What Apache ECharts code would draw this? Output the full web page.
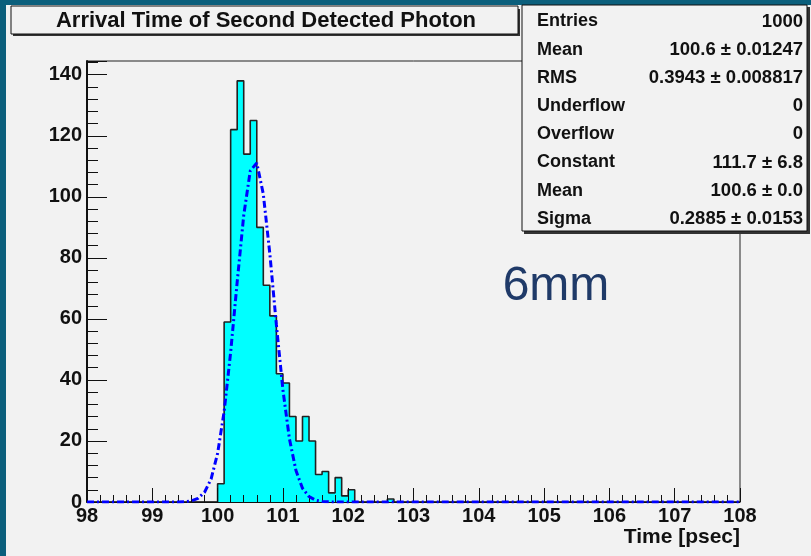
<!DOCTYPE html>
<html><head><meta charset="utf-8">
<script src="https://cdn.jsdelivr.net/npm/echarts@6/dist/echarts.min.js"></script>
<style>html,body{margin:0;padding:0;background:#f2f2f2}#c{width:811px;height:556px}</style>
</head><body><div id="c"></div><script>
// ---- data ----
const binStart = 100.0;
const binWidth = 0.1;
const counts = [6, 59, 122, 138, 114, 125, 90, 71, 61, 42, 39, 28, 20, 28, 20, 9, 10, 3, 8, 2, 4, 0, 0, 0, 0, 0, 1];
const xMin = 98, xMax = 108;
const fitX = [98, 99.4, 99.5, 99.6, 99.7, 99.8, 99.9, 100.0, 100.1, 100.2, 100.3, 100.4, 100.5, 100.6, 100.7, 100.8, 100.9, 101.0, 101.1, 101.2, 101.3, 101.4, 101.5, 101.6, 101.7, 101.8, 108];
const fitY = [0, 0, 0.1, 0.4, 1.2, 3.2, 7.5, 15.9, 29.6, 49.1, 72.1, 93.9, 108.5, 111.1, 100.9, 81.3, 58.1, 36.8, 20.7, 10.3, 4.5, 1.8, 0.6, 0.2, 0.05, 0, 0];
const statLabels = ['Entries', 'Mean', 'RMS', 'Underflow', 'Overflow', 'Constant', 'Mean', 'Sigma'];
const statValues = ['1000', '100.6 \u00b1 0.01247', '0.3943 \u00b1 0.008817', '0', '0', '111.7 \u00b1 6.8', '100.6 \u00b1 0.0', '0.2885 \u00b1 0.0153'];
const titleText = 'Arrival Time of Second Detected Photon';
const xAxisName = 'Time [psec]';
const noteText = '6mm';

// ---- build step outline ----
const histData = [[xMin, 0]];
counts.forEach((c, i) => histData.push([+(binStart + i * binWidth).toFixed(3), c]));
histData.push([+(binStart + counts.length * binWidth).toFixed(3), 0]);
histData.push([xMax, 0]);
const fitData = fitX.map((x, i) => [x, fitY[i]]);

const FONT = '"Liberation Sans", Arial, Helvetica, sans-serif';
const chart = echarts.init(document.getElementById('c'), null, {renderer: 'canvas'});

const graphics = [
  {type: 'rect', z: 100, shape: {x: 0, y: 0, width: 811, height: 5}, style: {fill: '#0b5f7c'}},
  {type: 'rect', z: 100, shape: {x: 0, y: 0, width: 6, height: 556}, style: {fill: '#0b5f7c'}},
  // title box
  {type: 'rect', z: 101, shape: {x: 13, y: 9, width: 507, height: 27}, style: {fill: '#333'}},
  {type: 'rect', z: 102, shape: {x: 11, y: 6, width: 507, height: 28}, style: {fill: '#f2f2f2', stroke: '#111', lineWidth: 1}},
  {type: 'text', z: 103, x: 266, y: 21, style: {text: titleText, font: 'bold 22px ' + FONT, fill: '#111', align: 'center', verticalAlign: 'middle'}},
  // stats box
  {type: 'rect', z: 101, shape: {x: 524, y: 7, width: 286, height: 227}, style: {fill: '#333'}},
  {type: 'rect', z: 102, shape: {x: 522, y: 5, width: 285, height: 226}, style: {fill: '#f2f2f2', stroke: '#111', lineWidth: 1}},
  {type: 'text', z: 103, x: 740, y: 537, style: {text: xAxisName, font: 'bold 21px ' + FONT, fill: '#111', align: 'right', verticalAlign: 'middle'}},
  {type: 'text', z: 103, x: 556, y: 287, style: {text: noteText, font: '48px ' + FONT, fill: '#1f3a68', align: 'center', verticalAlign: 'middle'}}
];
statLabels.forEach((l, i) => {
  graphics.push({type: 'text', z: 103, x: 537, y: 21.5 + i * 28.2, style: {text: l, font: 'bold 18px ' + FONT, fill: '#111', align: 'left', verticalAlign: 'middle'}});
  graphics.push({type: 'text', z: 103, x: 803, y: 21.5 + i * 28.2, style: {text: statValues[i], font: 'bold 18.5px ' + FONT, fill: '#111', align: 'right', verticalAlign: 'middle'}});
});

chart.setOption({
  animation: false,
  backgroundColor: '#f2f2f2',
  grid: {left: 87, right: 71, top: 61, bottom: 54, show: true, borderColor: '#222', borderWidth: 1, backgroundColor: 'transparent', containLabel: false},
  xAxis: {
    type: 'value', min: xMin, max: xMax, interval: 1, z: 3,
    axisLine: {show: true, onZero: false, lineStyle: {color: '#111', width: 1}},
    axisTick: {show: true, inside: true, length: 14, lineStyle: {color: '#111', width: 1}},
    minorTick: {show: true, splitNumber: 5, length: 7, lineStyle: {color: '#111', width: 1}},
    splitLine: {show: false}, minorSplitLine: {show: false},
    axisLabel: {show: true, margin: 4, color: '#111', fontFamily: FONT, fontWeight: 'bold', fontSize: 20, showMinLabel: true, showMaxLabel: true, hideOverlap: false}
  },
  yAxis: {
    type: 'value', min: 0, max: 144.5, interval: 20, z: 3,
    axisLine: {show: true, onZero: false, lineStyle: {color: '#111', width: 2}},
    axisTick: {show: true, inside: true, length: 20, lineStyle: {color: '#111', width: 1}},
    minorTick: {show: true, splitNumber: 5, length: 11, lineStyle: {color: '#111', width: 1}},
    splitLine: {show: false}, minorSplitLine: {show: false},
    axisLabel: {show: true, margin: 5, color: '#111', fontFamily: FONT, fontWeight: 'bold', fontSize: 20, showMinLabel: true, showMaxLabel: false, hideOverlap: false}
  },
  series: [
    {
      type: 'line', data: histData, step: 'end', symbol: 'none', z: 1,
      lineStyle: {color: '#222', width: 1.6},
      areaStyle: {color: '#00ffff', opacity: 1},
      emphasis: {disabled: true}
    },
    {
      type: 'line', data: fitData, smooth: false, symbol: 'none', z: 5,
      lineStyle: {color: '#0000ff', width: 3, type: [7, 3, 2, 3]},
      emphasis: {disabled: true}
    }
  ],
  graphic: graphics
});
</script></body></html>
